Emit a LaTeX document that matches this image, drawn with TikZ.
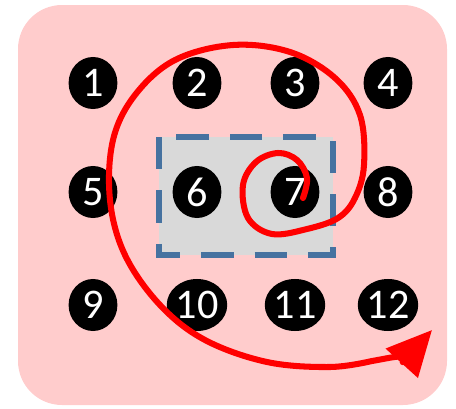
\documentclass[tikz,border=0pt]{standalone}
\usepackage{fontspec}
\setsansfont{Carlito}
\usetikzlibrary{shapes.geometric, arrows.meta}
\definecolor{colBg}{RGB}{255,204,204}
\definecolor{colFocus}{RGB}{217,217,217}
\definecolor{colDash}{RGB}{70,114,160}
\definecolor{colSpiral}{RGB}{255,0,0}
\tikzset{
  dot/.style={
    ellipse, fill=black, text=white,
    minimum width=1.22cm, minimum height=1.3cm,
    inner sep=0pt, font=\sffamily\fontsize{30}{30}\selectfont
  },
  focusbox/.style={
    fill=colFocus, draw=colDash, line width=4pt,
    dash pattern=on 23pt off 15pt
  },
  spiral/.style={
    draw=colSpiral, line width=4.3pt, line cap=round,
    -{Triangle[length=32pt, width=30pt]}
  }
}
\begin{document}
\begin{tikzpicture}[x=0.025cm, y=-0.025cm]
  \useasboundingbox (0,0) rectangle (456,409);

  % background and search window
  \fill[colBg, rounded corners=1.1cm] (18,5) rectangle (447,405);
  \draw[focusbox] (159,137) rectangle (333,255);

  % grid of numbered points
  \foreach \y [count=\r from 0] in {83,192,305}
    \foreach \x [count=\c] in {93,197,295,388} {
      \pgfmathtruncatemacro\k{\r*4+\c}
      \node[dot] (n\k) at (\x,\y) {\k};
    }

  % spiral from point 7 outwards
  \coordinate (spiralStart) at (303,198);
  \coordinate (spiralEnd) at (432,330);
  \draw[spiral] plot[smooth, tension=0.6] coordinates {
      (spiralStart) (307,178) (297,160) (278,153) (256,162) (243,185)
      (248,218) (272,234) (307,229) (338,218) (355,198) (364,165)
      (360,115) (335,78) (290,52) (233,45) (175,60) (135,95)
      (113,140) (110,200) (125,255) (160,305) (205,340) (267,362)
      (330,367) (372,361)}
    .. controls (390,358) and (412,352) .. (spiralEnd);

\end{tikzpicture}
\end{document}
